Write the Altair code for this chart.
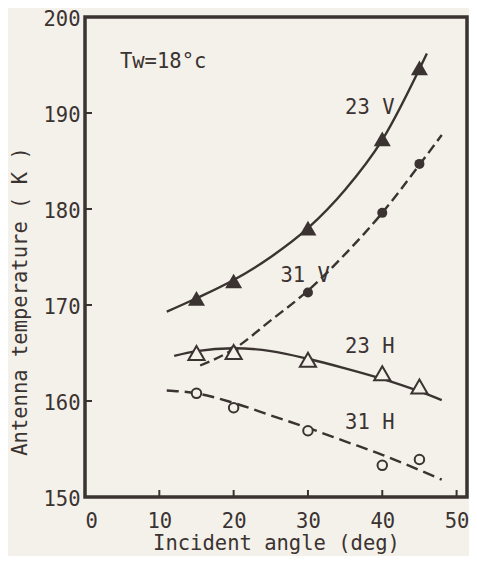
import altair as alt
import pandas as pd

# measured points
ang_pts = [15, 20, 30, 40, 45]
t23v = [170.7, 172.5, 178.0, 187.3, 194.7]
ang_31v = [20, 30, 40, 45]
t31v = [165.2, 171.3, 179.6, 184.7]
t23h = [165.0, 165.1, 164.3, 162.9, 161.5]
t31h = [160.8, 159.3, 156.9, 153.3, 153.9]

# fitted curves as drawn
c23v_x = [11, 15, 20, 25, 30, 35, 40, 46]
c23v_y = [169.3, 170.7, 172.6, 175.0, 178.0, 182.0, 187.2, 196.2]
c31v_x = [15.5, 20, 25, 30, 35, 40, 45, 48]
c31v_y = [163.7, 165.4, 168.4, 171.5, 175.3, 179.6, 184.6, 187.7]
c23h_x = [12, 15, 20, 25, 30, 35, 40, 45, 48]
c23h_y = [164.7, 165.2, 165.5, 165.2, 164.4, 163.4, 162.3, 161.0, 160.1]
c31h_x = [11, 15, 20, 25, 30, 35, 40, 45, 48]
c31h_y = [161.1, 160.8, 159.8, 158.5, 157.2, 155.8, 154.4, 152.8, 151.8]

# annotations
lab_text = ["23 V", "31 V", "23 H", "31 H", "Tw=18°c"]
lab_x = [35, 26.3, 35, 35, 4.7]
lab_y = [190.5, 173.0, 165.6, 157.7, 195.3]

x_ticks = [0, 10, 20, 30, 40, 50]
y_ticks = [150, 160, 170, 180, 190, 200]

INK = "#3b3331"
BG = "#f3f1ea"
FONT = "DejaVu Sans Mono"
FS = 20.5

xs = alt.Scale(domain=[0, 51.4], nice=False, zero=False)
ys = alt.Scale(domain=[150, 200], nice=False, zero=False)

X = lambda f: alt.X(f, type="quantitative", scale=xs,
                    axis=alt.Axis(values=x_ticks, title="Incident angle (deg)", grid=False,
                                  ticks=False, domain=False, labelPadding=14, titlePadding=2))
Y = lambda f: alt.Y(f, type="quantitative", scale=ys,
                    axis=alt.Axis(values=y_ticks, title="Antenna temperature ( K )", grid=False,
                                  ticks=False, domain=False, labelPadding=5, titlePadding=12,
                                  titleY=284, labelOffset=2))


def curve(xv, yv, dash=None):
    df = pd.DataFrame({"x": xv, "y": yv})
    kw = dict(color=INK, strokeWidth=2.4, interpolate="monotone")
    if dash:
        kw["strokeDash"] = dash
    return alt.Chart(df).mark_line(**kw).encode(x=X("x"), y=Y("y"))


def pts(xv, yv, shape, filled, size):
    df = pd.DataFrame({"x": xv, "y": yv})
    if filled:
        m = alt.Chart(df).mark_point(shape=shape, filled=True, color=INK, size=size, opacity=1)
    else:
        m = alt.Chart(df).mark_point(shape=shape, filled=False, color=INK, fill=BG,
                                     fillOpacity=1, strokeWidth=2, size=size, opacity=1)
    return m.encode(x=X("x"), y=Y("y"))


layers = [
    curve(c23v_x, c23v_y),
    curve(c31v_x, c31v_y, [10, 5]),
    curve(c23h_x, c23h_y),
    curve(c31h_x, c31h_y, [12, 6]),
    pts(ang_pts, t23v, "triangle-up", True, 290),
    pts(ang_31v, t31v, "circle", True, 100),
    pts(ang_pts, t23h, "triangle-up", False, 260),
    pts(ang_pts, t31h, "circle", False, 90),
]

labels = alt.Chart(pd.DataFrame({"t": lab_text, "x": lab_x, "y": lab_y})).mark_text(
    align="left", baseline="middle", font=FONT, fontSize=FS, color=INK
).encode(x=X("x"), y=Y("y"), text="t:N")

xt = alt.Chart(pd.DataFrame({"v": x_ticks[1:]})).mark_rule(color=INK, strokeWidth=2).encode(
    x=X("v"), y=alt.value(480), y2=alt.value(473))
yt = alt.Chart(pd.DataFrame({"v": y_ticks[1:-1]})).mark_rule(color=INK, strokeWidth=2).encode(
    y=Y("v"), x=alt.value(0), x2=alt.value(7))

chart = alt.layer(*layers, labels, xt, yt).properties(
    width=382, height=480, autosize="none",
    padding={"left": 77, "top": 9, "right": 2, "bottom": 59},
    background=BG,
).configure_view(stroke=INK, strokeWidth=3.5).configure_axis(
    labelFont=FONT, titleFont=FONT, labelFontSize=FS, titleFontSize=FS,
    labelColor=INK, titleColor=INK, titleFontWeight="normal",
)

chart.save("out.html", embed_options={"renderer": "svg", "actions": False})
